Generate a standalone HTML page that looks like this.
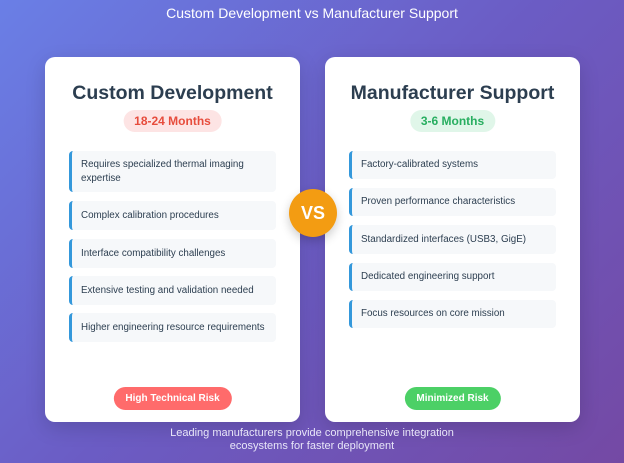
<!DOCTYPE html>
<html><head><style>
*{margin:0;padding:0;box-sizing:border-box}
body{width:624px;height:463px;overflow:hidden;background:linear-gradient(135deg,#6a7fe6 0%,#6b5cc4 50%,#7449a4 100%);font-family:"Liberation Sans",sans-serif;position:relative}
.t{position:absolute;left:0;width:624px;top:5px;text-align:center;color:#fff;font-size:14px}
.card{position:absolute;top:57px;width:255px;height:365px;background:#fff;border-radius:10px;box-shadow:0 6px 20px rgba(0,0,0,.15)}
.card h2{position:absolute;top:25px;left:0;width:100%;text-align:center;font-size:19.5px;color:#2c3e50;font-weight:bold}
.pill{position:absolute;top:53px;left:50%;transform:translateX(-50%);height:22px;line-height:22px;padding:0 11px;border-radius:11px;font-size:12px;font-weight:bold}
.item{position:absolute;left:24px;width:207px;background:#f6f8fa;border-left:3px solid #3498db;border-radius:4px;font-size:9.8px;color:#2c3e50;padding:0 0 0 9px;display:flex;align-items:center;line-height:14px}
.btn{position:absolute;top:330px;left:50%;transform:translateX(-50%);height:23px;line-height:23px;padding:0 12px;border-radius:12px;color:#fff;font-size:10px;font-weight:bold;white-space:nowrap}
.vs{position:absolute;left:289px;top:189px;width:48px;height:48px;border-radius:50%;background:#f39c12;color:#fff;font-weight:bold;font-size:18px;text-align:center;line-height:48px;box-shadow:0 4px 10px rgba(0,0,0,.2)}
.f{position:absolute;top:427px;left:0;width:624px;text-align:center;color:#e8e6f8;font-size:11px;line-height:13px}
</style></head><body>
<div class="t">Custom Development vs Manufacturer Support</div>
<div class="card" style="left:45px">
<h2>Custom Development</h2>
<div class="pill" style="background:#fde4e4;color:#e74c3c">18-24 Months</div>
<div class="item" style="top:94px;height:41px">Requires specialized thermal imaging<br>expertise</div>
<div class="item" style="top:144px;height:29px">Complex calibration procedures</div>
<div class="item" style="top:182px;height:29px">Interface compatibility challenges</div>
<div class="item" style="top:219px;height:29px">Extensive testing and validation needed</div>
<div class="item" style="top:256px;height:29px;white-space:nowrap">Higher engineering resource requirements</div>
<div class="btn" style="background:#ff6b6b">High Technical Risk</div>
</div>
<div class="card" style="left:325px">
<h2>Manufacturer Support</h2>
<div class="pill" style="background:#e0f6e9;color:#27ae60">3-6 Months</div>
<div class="item" style="top:94px;height:28px">Factory-calibrated systems</div>
<div class="item" style="top:131px;height:28px">Proven performance characteristics</div>
<div class="item" style="top:168px;height:29px">Standardized interfaces (USB3, GigE)</div>
<div class="item" style="top:206px;height:28px">Dedicated engineering support</div>
<div class="item" style="top:243px;height:28px">Focus resources on core mission</div>
<div class="btn" style="background:#4cd066">Minimized Risk</div>
</div>
<div class="vs">VS</div>
<div class="f">Leading manufacturers provide comprehensive integration<br>ecosystems for faster deployment</div>
</body></html>
